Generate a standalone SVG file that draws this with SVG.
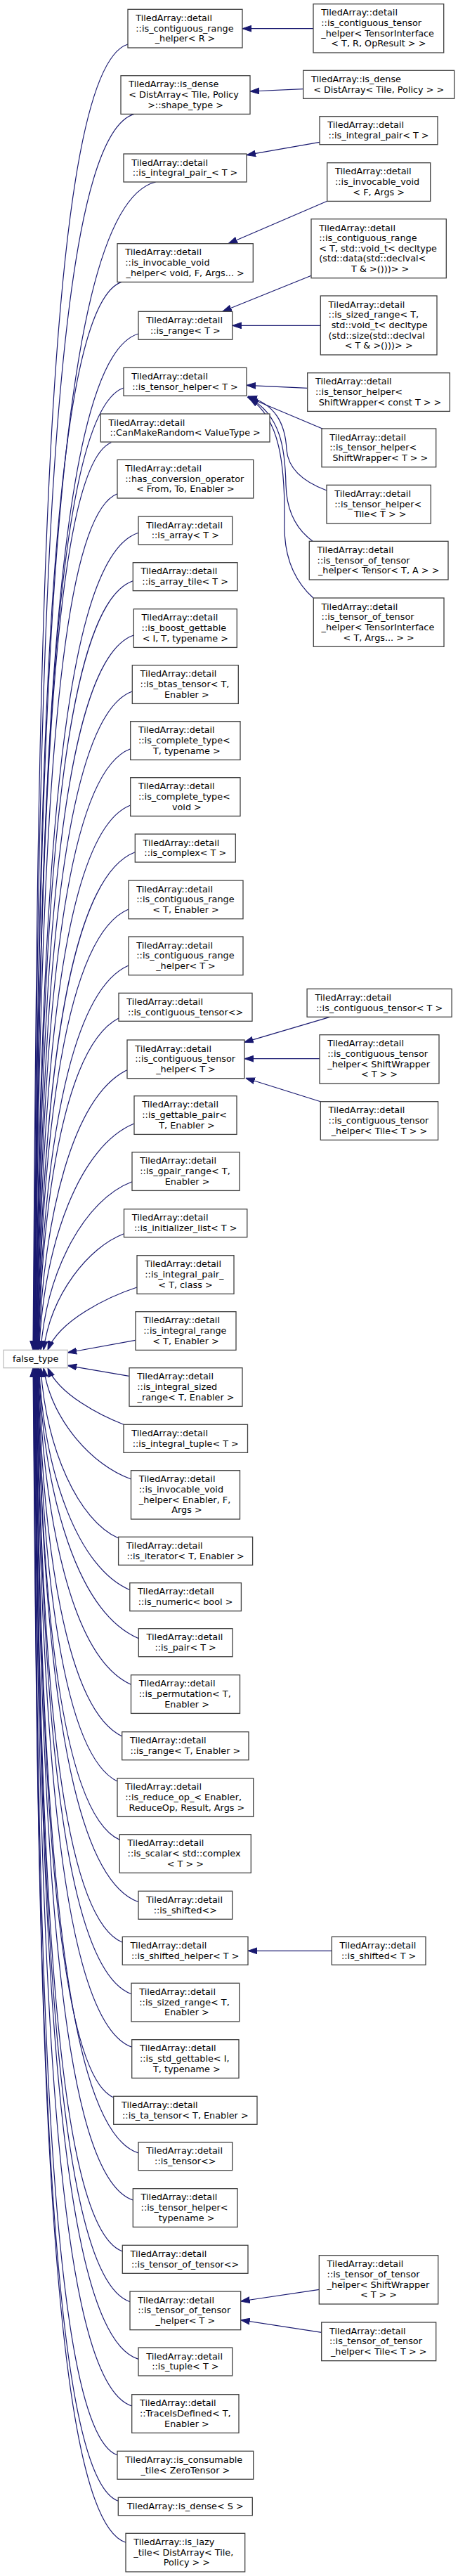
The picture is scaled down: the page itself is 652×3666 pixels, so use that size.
<svg xmlns="http://www.w3.org/2000/svg" width="652" height="3666" viewBox="0 0 652 3666">
<style>
text{font-family:"DejaVu Sans","Liberation Sans",sans-serif;font-size:12.8px;fill:#000}
.m{text-anchor:middle}
.n rect{fill:#fff;stroke:#404040;stroke-width:1.3}
#false_type rect{fill:#fff;stroke:#bfbfbf;stroke-width:1.3}
#edges path{fill:none;stroke:#191970;stroke-width:1.2;marker-end:url(#ah)}
</style>
<defs>
<marker id="ah" viewBox="0 0 13 10" refX="13" refY="5" markerWidth="13" markerHeight="10" markerUnits="userSpaceOnUse" orient="auto">
<path d="M0,0.6 L13,5 L0,9.4 z" fill="#191970" stroke="#191970" stroke-width="1"/>
</marker>
</defs>
<rect width="652" height="3666" fill="#fff"/>
<g id="edges">
<path d="M446,40.7 L345,40.7"/>
<path d="M431.7,126.7 L356,130"/>
<path d="M455,202.3 L351,220.7"/>
<path d="M465.7,286.3 L325,346.7"/>
<path d="M443,392.3 L316.7,443.3"/>
<path d="M456.3,463.3 L330.7,463.3"/>
<path d="M437.7,552.3 L351,548.3"/>
<path d="M460,610.5 L352,565"/>
<path d="M465,698 C430,685 410,665 408,640 C406,600 390,575 353,564"/>
<path d="M445,770 C420,752 408,725 407,690 C406,640 400,590 354,566"/>
<path d="M446,851 C418,826 404,790 405,745 C406,660 398,595 355,567"/>
<path d="M469.6,1447.3 L347.6,1483.3"/>
<path d="M455,1506.7 L348,1506.7"/>
<path d="M456.3,1567.7 L349.7,1534.3"/>
<path d="M472.3,2776.3 L353,2776.3"/>
<path d="M454.3,3258.3 L342.7,3275"/>
<path d="M457.7,3319.3 L342.7,3301.7"/>
<path d="M182,63 C57.8,101 53.8,1029.3 47,1921.3"/>
<path d="M191,162.4 C60.1,200.4 54.6,1077 47.45,1921.3"/>
<path d="M221.7,259 C65.1,297 56.6,1123.4 47.9,1921.3"/>
<path d="M173,401.4 C62.9,439.4 54.6,1191.7 48.35,1921.3"/>
<path d="M197,475 C67.6,513 56.2,1227.1 48.8,1921.3"/>
<path d="M176,552 C66.7,590 55.6,1264 49.25,1921.3"/>
<path d="M158.3,629.7 C66,667.7 55.1,1301.3 49.7,1921.3"/>
<path d="M167,702.7 C69,740.7 56,1336.4 50.15,1921.3"/>
<path d="M197,758.3 C75.6,796.3 57.9,1363.1 50.6,1921.3"/>
<path d="M189.3,826.7 C76.3,864.7 58,1395.9 51.05,1921.3"/>
<path d="M190.3,904 C78.9,942 58.4,1433 51.5,1921.3"/>
<path d="M188.3,984 C81.1,1022 58.8,1471.4 51.95,1921.3"/>
<path d="M185.7,1065.7 C83.3,1103.7 59.1,1510.6 52.4,1921.3"/>
<path d="M185.7,1146 C86.3,1184 59.5,1549.2 52.85,1921.3"/>
<path d="M192.3,1212.7 C90.8,1250.7 60.3,1581.2 53.3,1921.3"/>
<path d="M183,1294 C91.8,1332 60.2,1620.2 53.75,1921.3"/>
<path d="M183,1374 C95.6,1412 60.7,1658.6 54.2,1921.3"/>
<path d="M169,1449 C94.8,1487 60.6,1694.6 54.65,1921.3"/>
<path d="M181,1522.7 C103.6,1560.6 61.9,1730 55.1,1921.3"/>
<path d="M191,1599 C113.4,1630.8 63.4,1766.6 55.55,1921.3"/>
<path d="M188,1681.7 C121.3,1706.9 66.8,1806.3 58,1921.3"/>
<path d="M176.5,1755.7 C126.1,1774.9 72.5,1841.8 62,1921.3"/>
<path d="M195,1832 C154.9,1845.1 84.6,1878.4 68,1921.3"/>
<path d="M192.7,1907.3 L96.2,1925"/>
<path d="M183.6,1958.3 L96.2,1943.3"/>
<path d="M176,2027.3 C144.1,2014.9 84.6,1985.4 68,1946.7"/>
<path d="M186.5,2105 C132.9,2086.3 73.4,2022.7 62,1946.7"/>
<path d="M168.6,2189 C111.6,2163.6 65.7,2063 58,1946.7"/>
<path d="M184.8,2262.7 C111.3,2231.4 63.2,2098.4 55.6,1946.7"/>
<path d="M197.3,2331.7 C110.9,2294.9 62.8,2131.5 55.15,1946.7"/>
<path d="M186.5,2397.3 C102.1,2359.3 61.6,2163 54.7,1946.7"/>
<path d="M173.7,2471 C93.7,2433 60.3,2198.4 54.25,1946.7"/>
<path d="M167,2535 C88.6,2497 59.5,2229.1 53.8,1946.7"/>
<path d="M170.3,2618.3 C86.1,2580.3 59.2,2269.1 53.35,1946.7"/>
<path d="M197,2706.7 C89.8,2668.7 60.1,2311.5 52.9,1946.7"/>
<path d="M174.3,2764.3 C81.8,2726.3 58.6,2339.1 52.45,1946.7"/>
<path d="M187,2837.7 C82.2,2799.7 58.8,2374.4 52,1946.7"/>
<path d="M187.7,2913.3 C79.9,2875.3 58.4,2410.7 51.55,1946.7"/>
<path d="M161.7,2985 C72.4,2947 56.6,2445.1 51.1,1946.7"/>
<path d="M197,3064 C76.8,3026 58,2483 50.65,1946.7"/>
<path d="M189.3,3131 C73.4,3093 57.2,2515.2 50.2,1946.7"/>
<path d="M174.3,3204 C69.1,3166 56,2550.2 49.75,1946.7"/>
<path d="M185,3275.7 C68.8,3237.7 56.1,2584.6 49.3,1946.7"/>
<path d="M197,3357.3 C68.4,3319.3 56.3,2623.8 48.85,1946.7"/>
<path d="M187.7,3424 C65.5,3386 55.4,2655.8 48.4,1946.7"/>
<path d="M167,3494 C61.5,3456 54,2689.4 47.95,1946.7"/>
<path d="M168.3,3559.3 C60.2,3521.3 53.5,2720.7 47.5,1946.7"/>
<path d="M179,3618.3 C60,3580.3 53.7,2749.1 47.05,1946.7"/>
</g>
<g id="false_type"><rect x="5" y="1921.3" width="91.2" height="25.4"/><text class="m" x="50.6" y="1938">false_type</text></g>
<g id="n1" class="n"><rect x="182" y="13.3" width="163" height="54.7"/><text x="193.3" y="30.05">TiledArray::detail</text><text x="193.3" y="44.65">::is_contiguous_range</text><text class="m" x="263.5" y="59.25">_helper&lt; R &gt;</text></g>
<g id="n2" class="n"><rect x="172" y="107.7" width="184" height="54.7"/><text x="183.3" y="124.45">TiledArray::is_dense</text><text x="183.3" y="139.05">&lt; DistArray&lt; Tile, Policy</text><text class="m" x="264" y="153.65">&gt;::shape_type &gt;</text></g>
<g id="n3" class="n"><rect x="176" y="219" width="175" height="40"/><text x="187.3" y="235.7">TiledArray::detail</text><text class="m" x="263.5" y="250.3">::is_integral_pair_&lt; T &gt;</text></g>
<g id="n4" class="n"><rect x="167" y="346.7" width="193.3" height="54.7"/><text x="178.3" y="363.45">TiledArray::detail</text><text x="178.3" y="378.05">::is_invocable_void</text><text class="m" x="263.65" y="392.65">_helper&lt; void, F, Args... &gt;</text></g>
<g id="n5" class="n"><rect x="197" y="443.3" width="133.7" height="40"/><text x="208.3" y="460">TiledArray::detail</text><text class="m" x="263.85" y="474.6">::is_range&lt; T &gt;</text></g>
<g id="n6" class="n"><rect x="176" y="523.3" width="175" height="40"/><text x="187.3" y="540">TiledArray::detail</text><text class="m" x="263.5" y="554.6">::is_tensor_helper&lt; T &gt;</text></g>
<g id="n7" class="n"><rect x="143.3" y="589" width="240.7" height="40"/><text x="154.6" y="605.7">TiledArray::detail</text><text class="m" x="263.65" y="620.3">::CanMakeRandom&lt; ValueType &gt;</text></g>
<g id="n8" class="n"><rect x="167" y="654.3" width="193.7" height="54.7"/><text x="178.3" y="671.05">TiledArray::detail</text><text x="178.3" y="685.65">::has_conversion_operator</text><text class="m" x="263.85" y="700.25">&lt; From, To, Enabler &gt;</text></g>
<g id="n9" class="n"><rect x="197" y="735" width="133.7" height="40"/><text x="208.3" y="751.7">TiledArray::detail</text><text class="m" x="263.85" y="766.3">::is_array&lt; T &gt;</text></g>
<g id="n10" class="n"><rect x="189.3" y="800.7" width="148.7" height="40"/><text x="200.6" y="817.4">TiledArray::detail</text><text class="m" x="263.65" y="832">::is_array_tile&lt; T &gt;</text></g>
<g id="n11" class="n"><rect x="190.3" y="866.7" width="147" height="54.7"/><text x="201.6" y="883.45">TiledArray::detail</text><text x="201.6" y="898.05">::is_boost_gettable</text><text class="m" x="263.8" y="912.65">&lt; I, T, typename &gt;</text></g>
<g id="n12" class="n"><rect x="188.3" y="946.7" width="151" height="54.7"/><text x="199.6" y="963.45">TiledArray::detail</text><text x="199.6" y="978.05">::is_btas_tensor&lt; T,</text><text class="m" x="263.8" y="992.65" xml:space="preserve"> Enabler &gt;</text></g>
<g id="n13" class="n"><rect x="185.7" y="1026.7" width="156.3" height="54.7"/><text x="197" y="1043.45">TiledArray::detail</text><text x="197" y="1058.05">::is_complete_type&lt;</text><text class="m" x="263.85" y="1072.65" xml:space="preserve"> T, typename &gt;</text></g>
<g id="n14" class="n"><rect x="185.7" y="1106.7" width="156.3" height="54.7"/><text x="197" y="1123.45">TiledArray::detail</text><text x="197" y="1138.05">::is_complete_type&lt;</text><text class="m" x="263.85" y="1152.65" xml:space="preserve"> void &gt;</text></g>
<g id="n15" class="n"><rect x="192.3" y="1187" width="143" height="40"/><text x="203.6" y="1203.7">TiledArray::detail</text><text class="m" x="263.8" y="1218.3">::is_complex&lt; T &gt;</text></g>
<g id="n16" class="n"><rect x="183" y="1253" width="163" height="54.7"/><text x="194.3" y="1269.75">TiledArray::detail</text><text x="194.3" y="1284.35">::is_contiguous_range</text><text class="m" x="264.5" y="1298.95">&lt; T, Enabler &gt;</text></g>
<g id="n17" class="n"><rect x="183" y="1333" width="163" height="54.7"/><text x="194.3" y="1349.75">TiledArray::detail</text><text x="194.3" y="1364.35">::is_contiguous_range</text><text class="m" x="264.5" y="1378.95">_helper&lt; T &gt;</text></g>
<g id="n18" class="n"><rect x="169" y="1413.3" width="190" height="40"/><text x="180.3" y="1430">TiledArray::detail</text><text class="m" x="264" y="1444.6">::is_contiguous_tensor&lt;&gt;</text></g>
<g id="n19" class="n"><rect x="181" y="1480" width="167" height="54.7"/><text x="192.3" y="1496.75">TiledArray::detail</text><text x="192.3" y="1511.35">::is_contiguous_tensor</text><text class="m" x="264.5" y="1525.95">_helper&lt; T &gt;</text></g>
<g id="n20" class="n"><rect x="191" y="1559.7" width="146" height="54.7"/><text x="202.3" y="1576.45">TiledArray::detail</text><text x="202.3" y="1591.05">::is_gettable_pair&lt;</text><text class="m" x="264" y="1605.65" xml:space="preserve"> T, Enabler &gt;</text></g>
<g id="n21" class="n"><rect x="188" y="1639.7" width="153" height="54.7"/><text x="199.3" y="1656.45">TiledArray::detail</text><text x="199.3" y="1671.05">::is_gpair_range&lt; T,</text><text class="m" x="264.5" y="1685.65" xml:space="preserve"> Enabler &gt;</text></g>
<g id="n22" class="n"><rect x="176.5" y="1720.7" width="175.3" height="40"/><text x="187.8" y="1737.4">TiledArray::detail</text><text class="m" x="264.15" y="1752">::is_initializer_list&lt; T &gt;</text></g>
<g id="n23" class="n"><rect x="195" y="1786.7" width="138" height="54.7"/><text x="206.3" y="1803.45">TiledArray::detail</text><text x="206.3" y="1818.05">::is_integral_pair_</text><text class="m" x="264" y="1832.65">&lt; T, class &gt;</text></g>
<g id="n24" class="n"><rect x="193" y="1866.7" width="143" height="54.7"/><text x="204.3" y="1883.45">TiledArray::detail</text><text x="204.3" y="1898.05">::is_integral_range</text><text class="m" x="264.5" y="1912.65">&lt; T, Enabler &gt;</text></g>
<g id="n25" class="n"><rect x="184" y="1946.7" width="161" height="54.7"/><text x="195.3" y="1963.45">TiledArray::detail</text><text x="195.3" y="1978.05">::is_integral_sized</text><text class="m" x="264.5" y="1992.65">_range&lt; T, Enabler &gt;</text></g>
<g id="n26" class="n"><rect x="176" y="2027.3" width="176.5" height="40"/><text x="187.3" y="2044">TiledArray::detail</text><text class="m" x="264.25" y="2058.6">::is_integral_tuple&lt; T &gt;</text></g>
<g id="n27" class="n"><rect x="186.5" y="2092.7" width="155" height="69.3"/><text x="197.8" y="2109.45">TiledArray::detail</text><text x="197.8" y="2124.05">::is_invocable_void</text><text x="197.8" y="2138.65">_helper&lt; Enabler, F,</text><text class="m" x="264" y="2153.25" xml:space="preserve"> Args &gt;</text></g>
<g id="n28" class="n"><rect x="168.6" y="2187.3" width="191" height="40"/><text x="179.9" y="2204">TiledArray::detail</text><text class="m" x="264.1" y="2218.6">::is_iterator&lt; T, Enabler &gt;</text></g>
<g id="n29" class="n"><rect x="184.8" y="2252.7" width="158.6" height="40"/><text x="196.1" y="2269.4">TiledArray::detail</text><text class="m" x="264.1" y="2284">::is_numeric&lt; bool &gt;</text></g>
<g id="n30" class="n"><rect x="197.3" y="2317.7" width="133.7" height="40"/><text x="208.6" y="2334.4">TiledArray::detail</text><text class="m" x="264.15" y="2349">::is_pair&lt; T &gt;</text></g>
<g id="n31" class="n"><rect x="186.5" y="2383.7" width="155" height="54.7"/><text x="197.8" y="2400.45">TiledArray::detail</text><text x="197.8" y="2415.05">::is_permutation&lt; T,</text><text class="m" x="264" y="2429.65" xml:space="preserve"> Enabler &gt;</text></g>
<g id="n32" class="n"><rect x="173.7" y="2464.7" width="180.3" height="40"/><text x="185" y="2481.4">TiledArray::detail</text><text class="m" x="263.85" y="2496">::is_range&lt; T, Enabler &gt;</text></g>
<g id="n33" class="n"><rect x="167" y="2530.7" width="193.7" height="54.7"/><text x="178.3" y="2547.45">TiledArray::detail</text><text x="178.3" y="2562.05">::is_reduce_op_&lt; Enabler,</text><text class="m" x="263.85" y="2576.65" xml:space="preserve"> ReduceOp, Result, Args &gt;</text></g>
<g id="n34" class="n"><rect x="170.3" y="2610.7" width="187" height="54.7"/><text x="181.6" y="2627.45">TiledArray::detail</text><text x="181.6" y="2642.05">::is_scalar&lt; std::complex</text><text class="m" x="263.8" y="2656.65">&lt; T &gt; &gt;</text></g>
<g id="n35" class="n"><rect x="197" y="2691.3" width="133.7" height="40"/><text x="208.3" y="2708">TiledArray::detail</text><text class="m" x="263.85" y="2722.6">::is_shifted&lt;&gt;</text></g>
<g id="n36" class="n"><rect x="174.3" y="2756.3" width="178.7" height="40"/><text x="185.6" y="2773">TiledArray::detail</text><text class="m" x="263.65" y="2787.6">::is_shifted_helper&lt; T &gt;</text></g>
<g id="n37" class="n"><rect x="187" y="2822.3" width="153.7" height="54.7"/><text x="198.3" y="2839.05">TiledArray::detail</text><text x="198.3" y="2853.65">::is_sized_range&lt; T,</text><text class="m" x="263.85" y="2868.25" xml:space="preserve"> Enabler &gt;</text></g>
<g id="n38" class="n"><rect x="187.7" y="2902.7" width="152.3" height="54.7"/><text x="199" y="2919.45">TiledArray::detail</text><text x="199" y="2934.05">::is_std_gettable&lt; I,</text><text class="m" x="263.85" y="2948.65" xml:space="preserve"> T, typename &gt;</text></g>
<g id="n39" class="n"><rect x="161.7" y="2983.3" width="204.3" height="40"/><text x="173" y="3000">TiledArray::detail</text><text class="m" x="263.85" y="3014.6">::is_ta_tensor&lt; T, Enabler &gt;</text></g>
<g id="n40" class="n"><rect x="197" y="3048.7" width="133.7" height="40"/><text x="208.3" y="3065.4">TiledArray::detail</text><text class="m" x="263.85" y="3080">::is_tensor&lt;&gt;</text></g>
<g id="n41" class="n"><rect x="189.3" y="3114.7" width="148.7" height="54.7"/><text x="200.6" y="3131.45">TiledArray::detail</text><text x="200.6" y="3146.05">::is_tensor_helper&lt;</text><text class="m" x="263.65" y="3160.65" xml:space="preserve"> typename &gt;</text></g>
<g id="n42" class="n"><rect x="174.3" y="3195.3" width="178.7" height="40"/><text x="185.6" y="3212">TiledArray::detail</text><text class="m" x="263.65" y="3226.6">::is_tensor_of_tensor&lt;&gt;</text></g>
<g id="n43" class="n"><rect x="185" y="3261" width="157.7" height="54.7"/><text x="196.3" y="3277.75">TiledArray::detail</text><text x="196.3" y="3292.35">::is_tensor_of_tensor</text><text class="m" x="263.85" y="3306.95">_helper&lt; T &gt;</text></g>
<g id="n44" class="n"><rect x="197" y="3341" width="133.7" height="40"/><text x="208.3" y="3357.7">TiledArray::detail</text><text class="m" x="263.85" y="3372.3">::is_tuple&lt; T &gt;</text></g>
<g id="n45" class="n"><rect x="187.7" y="3407.7" width="152.3" height="54.7"/><text x="199" y="3424.45">TiledArray::detail</text><text x="199" y="3439.05">::TraceIsDefined&lt; T,</text><text class="m" x="263.85" y="3453.65" xml:space="preserve"> Enabler &gt;</text></g>
<g id="n46" class="n"><rect x="167" y="3488.3" width="193.7" height="40"/><text x="178.3" y="3505">TiledArray::is_consumable</text><text class="m" x="263.85" y="3519.6">_tile&lt; ZeroTensor &gt;</text></g>
<g id="n47" class="n"><rect x="168.3" y="3554.3" width="191" height="25.5"/><text class="m" x="263.8" y="3571.05">TiledArray::is_dense&lt; S &gt;</text></g>
<g id="n48" class="n"><rect x="179" y="3605.3" width="169.7" height="54.7"/><text x="190.3" y="3622.05">TiledArray::is_lazy</text><text x="190.3" y="3636.65">_tile&lt; DistArray&lt; Tile,</text><text class="m" x="263.85" y="3651.25" xml:space="preserve"> Policy &gt; &gt;</text></g>
<g id="r1" class="n"><rect x="446" y="5.7" width="185.7" height="69.3"/><text x="457.3" y="22.45">TiledArray::detail</text><text x="457.3" y="37.05">::is_contiguous_tensor</text><text x="457.3" y="51.65">_helper&lt; TensorInterface</text><text class="m" x="538.85" y="66.25">&lt; T, R, OpResult &gt; &gt;</text></g>
<g id="r2" class="n"><rect x="431.7" y="100.3" width="215" height="40"/><text x="443" y="117">TiledArray::is_dense</text><text class="m" x="539.2" y="131.6">&lt; DistArray&lt; Tile, Policy &gt; &gt;</text></g>
<g id="r3" class="n"><rect x="455" y="165.7" width="168" height="40"/><text x="466.3" y="182.4">TiledArray::detail</text><text class="m" x="539" y="197">::is_integral_pair&lt; T &gt;</text></g>
<g id="r4" class="n"><rect x="465.7" y="231.7" width="147" height="54.7"/><text x="477" y="248.45">TiledArray::detail</text><text x="477" y="263.05">::is_invocable_void</text><text class="m" x="539.2" y="277.65">&lt; F, Args &gt;</text></g>
<g id="r5" class="n"><rect x="443" y="311.7" width="192.3" height="84"/><text x="454.3" y="328.5">TiledArray::detail</text><text x="454.3" y="343.1">::is_contiguous_range</text><text x="454.3" y="357.7">&lt; T, std::void_t&lt; decltype</text><text x="454.3" y="372.3">(std::data(std::declval&lt;</text><text class="m" x="539.15" y="386.9" xml:space="preserve"> T &amp; &gt;()))&gt; &gt;</text></g>
<g id="r6" class="n"><rect x="456.3" y="421" width="165.7" height="84"/><text x="467.6" y="437.8">TiledArray::detail</text><text x="467.6" y="452.4">::is_sized_range&lt; T,</text><text x="467.6" y="467" xml:space="preserve"> std::void_t&lt; decltype</text><text x="467.6" y="481.6">(std::size(std::declval</text><text class="m" x="539.15" y="496.2">&lt; T &amp; &gt;()))&gt; &gt;</text></g>
<g id="r7" class="n"><rect x="437.7" y="530.7" width="202.6" height="54.7"/><text x="449" y="547.45">TiledArray::detail</text><text x="449" y="562.05">::is_tensor_helper&lt;</text><text class="m" x="539" y="576.65" xml:space="preserve"> ShiftWrapper&lt; const T &gt; &gt;</text></g>
<g id="r8" class="n"><rect x="458" y="610" width="162.7" height="54.7"/><text x="469.3" y="626.75">TiledArray::detail</text><text x="469.3" y="641.35">::is_tensor_helper&lt;</text><text class="m" x="539.35" y="655.95" xml:space="preserve"> ShiftWrapper&lt; T &gt; &gt;</text></g>
<g id="r9" class="n"><rect x="465" y="690.3" width="148.3" height="54.7"/><text x="476.3" y="707.05">TiledArray::detail</text><text x="476.3" y="721.65">::is_tensor_helper&lt;</text><text class="m" x="539.15" y="736.25" xml:space="preserve"> Tile&lt; T &gt; &gt;</text></g>
<g id="r10" class="n"><rect x="440.3" y="770.3" width="197.7" height="54.7"/><text x="451.6" y="787.05">TiledArray::detail</text><text x="451.6" y="801.65">::is_tensor_of_tensor</text><text class="m" x="539.15" y="816.25">_helper&lt; Tensor&lt; T, A &gt; &gt;</text></g>
<g id="r11" class="n"><rect x="446.3" y="851" width="185.7" height="69.3"/><text x="457.6" y="867.75">TiledArray::detail</text><text x="457.6" y="882.35">::is_tensor_of_tensor</text><text x="457.6" y="896.95">_helper&lt; TensorInterface</text><text class="m" x="539.15" y="911.55">&lt; T, Args... &gt; &gt;</text></g>
<g id="r12" class="n"><rect x="437.1" y="1407.3" width="206" height="40"/><text x="448.4" y="1424">TiledArray::detail</text><text class="m" x="540.1" y="1438.6">::is_contiguous_tensor&lt; T &gt;</text></g>
<g id="r13" class="n"><rect x="455" y="1472.7" width="170" height="69.3"/><text x="466.3" y="1489.45">TiledArray::detail</text><text x="466.3" y="1504.05">::is_contiguous_tensor</text><text x="466.3" y="1518.65">_helper&lt; ShiftWrapper</text><text class="m" x="540" y="1533.25">&lt; T &gt; &gt;</text></g>
<g id="r14" class="n"><rect x="456.3" y="1567.7" width="167.3" height="54.7"/><text x="467.6" y="1584.45">TiledArray::detail</text><text x="467.6" y="1599.05">::is_contiguous_tensor</text><text class="m" x="539.95" y="1613.65">_helper&lt; Tile&lt; T &gt; &gt;</text></g>
<g id="r15" class="n"><rect x="472.3" y="2756.3" width="133.7" height="40"/><text x="483.6" y="2773">TiledArray::detail</text><text class="m" x="539.15" y="2787.6">::is_shifted&lt; T &gt;</text></g>
<g id="r16" class="n"><rect x="454.3" y="3209.7" width="169.4" height="69.3"/><text x="465.6" y="3226.45">TiledArray::detail</text><text x="465.6" y="3241.05">::is_tensor_of_tensor</text><text x="465.6" y="3255.65">_helper&lt; ShiftWrapper</text><text class="m" x="539" y="3270.25">&lt; T &gt; &gt;</text></g>
<g id="r17" class="n"><rect x="457.7" y="3305" width="163" height="54.7"/><text x="469" y="3321.75">TiledArray::detail</text><text x="469" y="3336.35">::is_tensor_of_tensor</text><text class="m" x="539.2" y="3350.95">_helper&lt; Tile&lt; T &gt; &gt;</text></g>
</svg>
